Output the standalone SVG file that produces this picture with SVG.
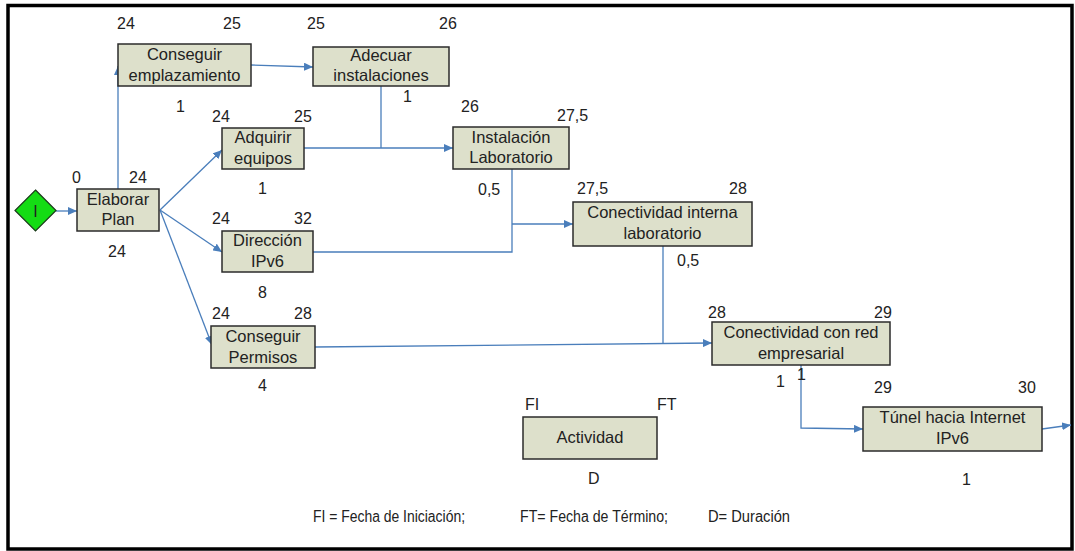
<svg xmlns="http://www.w3.org/2000/svg" width="1075" height="551" viewBox="0 0 1075 551">
  <style>
    .box { fill: #dde0cb; stroke: #2b2b2b; stroke-width: 1.5; }
    .lbl { font-family: "Liberation Sans", Arial, sans-serif; font-size: 16px; fill: #222; }
    .nm { font-family: "Liberation Sans", Arial, sans-serif; font-size: 16.5px; fill: #222; text-anchor: middle; }
    .mid { text-anchor: middle; }
    .leg { font-family: "Liberation Sans", Arial, sans-serif; font-size: 16px; fill: #222; }
    .edge { fill: none; stroke: #4a7ebb; stroke-width: 1.3; }
  </style>
  <defs>
    <marker id="arr" markerUnits="userSpaceOnUse" markerWidth="10" markerHeight="8" refX="9" refY="4" orient="auto">
      <path d="M0,0 L9,4 L0,8 Z" fill="#4a7ebb"/>
    </marker>
  </defs>

  <rect x="0" y="0" width="1075" height="551" fill="#ffffff"/>
  <!-- outer frame -->
  <rect x="8" y="5.5" width="1064" height="543.5" fill="none" stroke="#000" stroke-width="3.5"/>

  <!-- connectors -->
  <g id="connectors">
    <path class="edge" d="M56,211 L77,211" marker-end="url(#arr)"/>
    <path class="edge" d="M118,189 L118,66" marker-end="url(#arr)"/>
    <path class="edge" d="M251,65 L313,67" marker-end="url(#arr)"/>
    <path class="edge" d="M160,210 L222,150" marker-end="url(#arr)"/>
    <path class="edge" d="M160,210 L222,252" marker-end="url(#arr)"/>
    <path class="edge" d="M160,210 L212,345" marker-end="url(#arr)"/>
    <path class="edge" d="M304,148 L453,148" marker-end="url(#arr)"/>
    <path class="edge" d="M381,86 L381,148"/>
    <path class="edge" d="M313,252 L512,252 L512,169"/>
    <path class="edge" d="M512,224 L573,224" marker-end="url(#arr)"/>
    <path class="edge" d="M315,347 L712,343" marker-end="url(#arr)"/>
    <path class="edge" d="M663,246 L663,344"/>
    <path class="edge" d="M801,365 L801,428 L863,429" marker-end="url(#arr)"/>
    <path class="edge" d="M1042,429 L1071,425" marker-end="url(#arr)"/>
  </g>

  <!-- start -->
  <g id="start">
    <path d="M35.5,190 L56,210.5 L35.5,231 L15,210.5 Z" fill="#14dc14" stroke="#1a3a1a" stroke-width="1.2"/>
    <text class="lbl mid" x="35.5" y="216.5">I</text>
  </g>

  <g id="elaborar-plan">
    <rect class="box" x="77" y="189" width="82" height="42"/>
    <text class="nm" x="118" y="205">Elaborar</text>
    <text class="nm" x="118" y="225">Plan</text>
    <text class="lbl" x="72" y="183">0</text>
    <text class="lbl" x="129" y="183">24</text>
    <text class="lbl" x="108" y="257">24</text>
  </g>

  <g id="conseguir-emplazamiento">
    <rect class="box" x="118" y="44" width="133" height="42"/>
    <text class="nm" x="184.5" y="60">Conseguir</text>
    <text class="nm" x="184.5" y="81">emplazamiento</text>
    <text class="lbl" x="117" y="29">24</text>
    <text class="lbl" x="223" y="29">25</text>
    <text class="lbl" x="176" y="112">1</text>
  </g>

  <g id="adecuar-instalaciones">
    <rect class="box" x="313" y="47" width="136" height="39"/>
    <text class="nm" x="381" y="61">Adecuar</text>
    <text class="nm" x="381" y="81">instalaciones</text>
    <text class="lbl" x="307" y="29">25</text>
    <text class="lbl" x="439" y="29">26</text>
    <text class="lbl" x="403" y="102">1</text>
  </g>

  <g id="adquirir-equipos">
    <rect class="box" x="222" y="128" width="82" height="41"/>
    <text class="nm" x="263" y="143">Adquirir</text>
    <text class="nm" x="263" y="164">equipos</text>
    <text class="lbl" x="212" y="122">24</text>
    <text class="lbl" x="294" y="122">25</text>
    <text class="lbl" x="258" y="194">1</text>
  </g>

  <g id="instalacion-laboratorio">
    <rect class="box" x="453" y="127" width="116" height="42"/>
    <text class="nm" x="511" y="143">Instalación</text>
    <text class="nm" x="511" y="163">Laboratorio</text>
    <text class="lbl" x="461" y="112">26</text>
    <text class="lbl" x="557" y="121">27,5</text>
    <text class="lbl" x="478" y="195">0,5</text>
  </g>

  <g id="direccion-ipv6">
    <rect class="box" x="222" y="231" width="91" height="41"/>
    <text class="nm" x="267.5" y="246">Dirección</text>
    <text class="nm" x="267.5" y="267">IPv6</text>
    <text class="lbl" x="212" y="224">24</text>
    <text class="lbl" x="294" y="224">32</text>
    <text class="lbl" x="258" y="298">8</text>
  </g>

  <g id="conectividad-interna">
    <rect class="box" x="573" y="202" width="179" height="44"/>
    <text class="nm" x="662.5" y="218">Conectividad interna</text>
    <text class="nm" x="662.5" y="239">laboratorio</text>
    <text class="lbl" x="577" y="194">27,5</text>
    <text class="lbl" x="729" y="194">28</text>
    <text class="lbl" x="677" y="266">0,5</text>
  </g>

  <g id="conseguir-permisos">
    <rect class="box" x="211" y="326" width="104" height="42"/>
    <text class="nm" x="263" y="342">Conseguir</text>
    <text class="nm" x="263" y="363">Permisos</text>
    <text class="lbl" x="212" y="319">24</text>
    <text class="lbl" x="294" y="319">28</text>
    <text class="lbl" x="258" y="391">4</text>
  </g>

  <g id="conectividad-red">
    <rect class="box" x="712" y="322" width="178" height="43"/>
    <text class="nm" x="801" y="338">Conectividad con red</text>
    <text class="nm" x="801" y="359">empresarial</text>
    <text class="lbl" x="708" y="318">28</text>
    <text class="lbl" x="874" y="318">29</text>
    <text class="lbl" x="776" y="387">1</text>
    <text class="lbl" x="797" y="380">1</text>
  </g>

  <g id="tunel-internet">
    <rect class="box" x="863" y="407" width="179" height="44"/>
    <text class="nm" x="952.5" y="423">Túnel hacia Internet</text>
    <text class="nm" x="952.5" y="444">IPv6</text>
    <text class="lbl" x="874" y="393">29</text>
    <text class="lbl" x="1018" y="393">30</text>
    <text class="lbl" x="962" y="485">1</text>
  </g>

  <g id="actividad">
    <rect class="box" x="523" y="417" width="134" height="42"/>
    <text class="nm" x="590" y="443">Actividad</text>
    <text class="lbl" x="525" y="410">FI</text>
    <text class="lbl" x="657" y="410">FT</text>
    <text class="lbl" x="588" y="484">D</text>
  </g>

  <g id="legend">
    <text class="leg" x="313" y="522" textLength="152" lengthAdjust="spacingAndGlyphs">FI = Fecha de Iniciación;</text>
    <text class="leg" x="520" y="522" textLength="148" lengthAdjust="spacingAndGlyphs">FT= Fecha de Término;</text>
    <text class="leg" x="708" y="522" textLength="82" lengthAdjust="spacingAndGlyphs">D= Duración</text>
  </g>
</svg>
